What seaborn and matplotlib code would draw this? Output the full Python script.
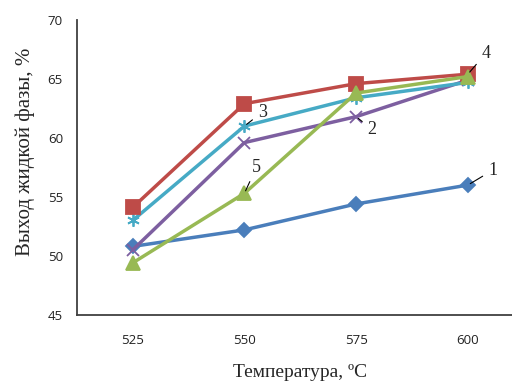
import pandas as pd
import numpy as np
import matplotlib
matplotlib.use("Agg")
import matplotlib.pyplot as plt
import seaborn as sns

temps = ["525", "550", "575", "600"]
series_names = ["1", "2", "3", "4", "5"]
s1 = [50.8, 52.2, 54.4, 56.0]
s2 = [50.5, 59.6, 61.8, 64.9]
s3 = [53.0, 61.0, 63.4, 64.7]
s4 = [54.1, 62.9, 64.6, 65.4]
s5 = [49.4, 55.3, 63.8, 65.2]
values = [s1, s2, s3, s4, s5]

colors = {"1": "#4A7EBB", "2": "#7D5FA0", "3": "#46AAC5", "4": "#BE4B48", "5": "#98B954"}
markers = {"1": "D", "2": "x", "3": (6, 2, 0), "4": "s", "5": "^"}
msizes = {"1": 7, "2": 8, "3": 9, "4": 9.5, "5": 9.5}

# where the number labels sit relative to a point (pixels)
label_at = {"1": (3, 25, 15), "2": (2, 16, -13), "3": (1, 18, 14), "4": (3, 18, 21), "5": (1, 12, 26)}

sns.set_style("white")
plt.rcParams["font.family"] = ["Open Sans", "DejaVu Sans"]

fig = plt.figure(figsize=(5.12, 3.83), dpi=100)
ax = fig.add_axes([0.150, 0.178, 0.873, 0.770])

for name, vals in zip(series_names, values):
    d = pd.DataFrame({"pos": range(len(temps)), "value": vals})
    sns.lineplot(data=d, x="pos", y="value", color=colors[name], marker=markers[name],
                 markersize=msizes[name], markeredgewidth=1.3, markeredgecolor=colors[name],
                 linewidth=2.5, ax=ax)

ax.set_xlim(-0.5, 3.5)
ax.set_ylim(45, 70)
ax.set_xticks(range(len(temps)))
ax.set_xticklabels(temps)
ax.set_yticks(np.arange(45, 71, 5))
ax.tick_params(axis="both", labelsize=9.5, colors="#222222", length=4, width=1)
ax.tick_params(axis="x", direction="inout", pad=12)
ax.tick_params(axis="y", direction="out", pad=6)
for sp in ["top", "right"]:
    ax.spines[sp].set_visible(False)
for sp in ["left", "bottom"]:
    ax.spines[sp].set_color("#404040")
    ax.spines[sp].set_linewidth(1.3)

serif = ["Liberation Serif", "DejaVu Serif"]
ax.set_xlabel("Температура, ºС", family=serif, fontsize=14, labelpad=12)
ax.set_ylabel("Выход жидкой фазы, %", family=serif, fontsize=15)
ax.yaxis.set_label_coords(-0.094, 0.553)

for name, vals in zip(series_names, values):
    i, dx, dy = label_at[name]
    ax.annotate(name, xy=(i, vals[i]), xytext=(dx, dy), textcoords="offset pixels",
                ha="center", va="center", family=serif, fontsize=13,
                arrowprops=dict(arrowstyle="-", color="black", lw=0.8,
                                shrinkA=2, shrinkB=2))

fig.savefig("out.png", dpi=100, facecolor="white")
